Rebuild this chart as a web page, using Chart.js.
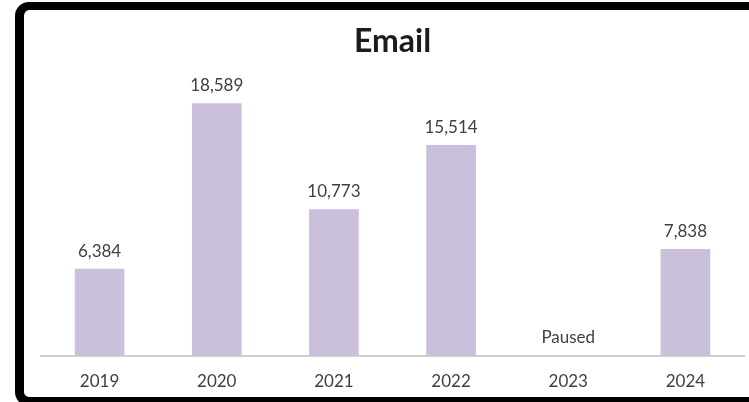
<!DOCTYPE html>
<html>
<head>
<meta charset="utf-8">
<script src="https://cdn.jsdelivr.net/npm/chart.js@4"></script>
<style>
  html, body { margin: 0; padding: 0; background: #fff; overflow: hidden; }
  #wrap { position: relative; width: 749px; height: 402px; }
  /* black rounded frame round the chart, running off the right edge */
  #frame {
    position: absolute; left: 15px; top: 2px;
    width: 900px; height: 387px;
    border: 9px solid #000; border-top-width: 8px; border-radius: 14px;
  }
  #myChart { position: absolute; left: 0; top: 0; }
</style>
</head>
<body>
<div id="wrap">
  <div id="frame"></div>
  <canvas id="myChart" width="749" height="402"></canvas>
</div>
<script>
// Email sends per year
var years = ["2019", "2020", "2021", "2022", "2023", "2024"];
var sends = [6384, 18589, 10773, 15514, 0, 7838];
var notes = [null, null, null, null, "Paused", null];

var font = "Lato, 'Open Sans', sans-serif";

// write the number (or note) above each bar
var barLabels = {
  id: "barLabels",
  afterDatasetsDraw: function (chart) {
    var ctx = chart.ctx;
    var meta = chart.getDatasetMeta(0);
    ctx.save();
    ctx.font = "17px " + font;
    ctx.fillStyle = "#404040";
    ctx.textAlign = "center";
    ctx.textBaseline = "middle";
    meta.data.forEach(function (bar, i) {
      var text = notes[i] || sends[i].toLocaleString("en-US");
      ctx.fillText(text, bar.x, bar.y - 18);
    });
    ctx.restore();
  },
};

var ctx = document.getElementById("myChart").getContext("2d");
var chart = new Chart(ctx, {
  type: "bar",
  data: {
    labels: years,
    datasets: [
      {
        label: "Email",
        data: sends,
        backgroundColor: "#cac0dc",
        barThickness: 49,
      },
    ],
  },
  options: {
    responsive: false,
    animation: false,
    layout: { padding: { left: 41, right: 5, top: 0, bottom: -6 } },
    plugins: {
      legend: { display: false },
      tooltip: { enabled: false },
      title: {
        display: true,
        text: "Email",
        color: "#1c1c1c",
        font: { family: font, size: 32, weight: "bold" },
        padding: { top: 22, bottom: 24 },
      },
    },
    scales: {
      x: {
        grid: { display: false, drawTicks: false, tickLength: 0 },
        border: { display: true, color: "#cfcfcf", width: 2 },
        ticks: { color: "#404040", font: { family: font, size: 17 }, padding: 16 },
      },
      y: { display: false, min: 0, max: 20000 },
    },
  },
  plugins: [barLabels],
});
</script>
</body>
</html>
